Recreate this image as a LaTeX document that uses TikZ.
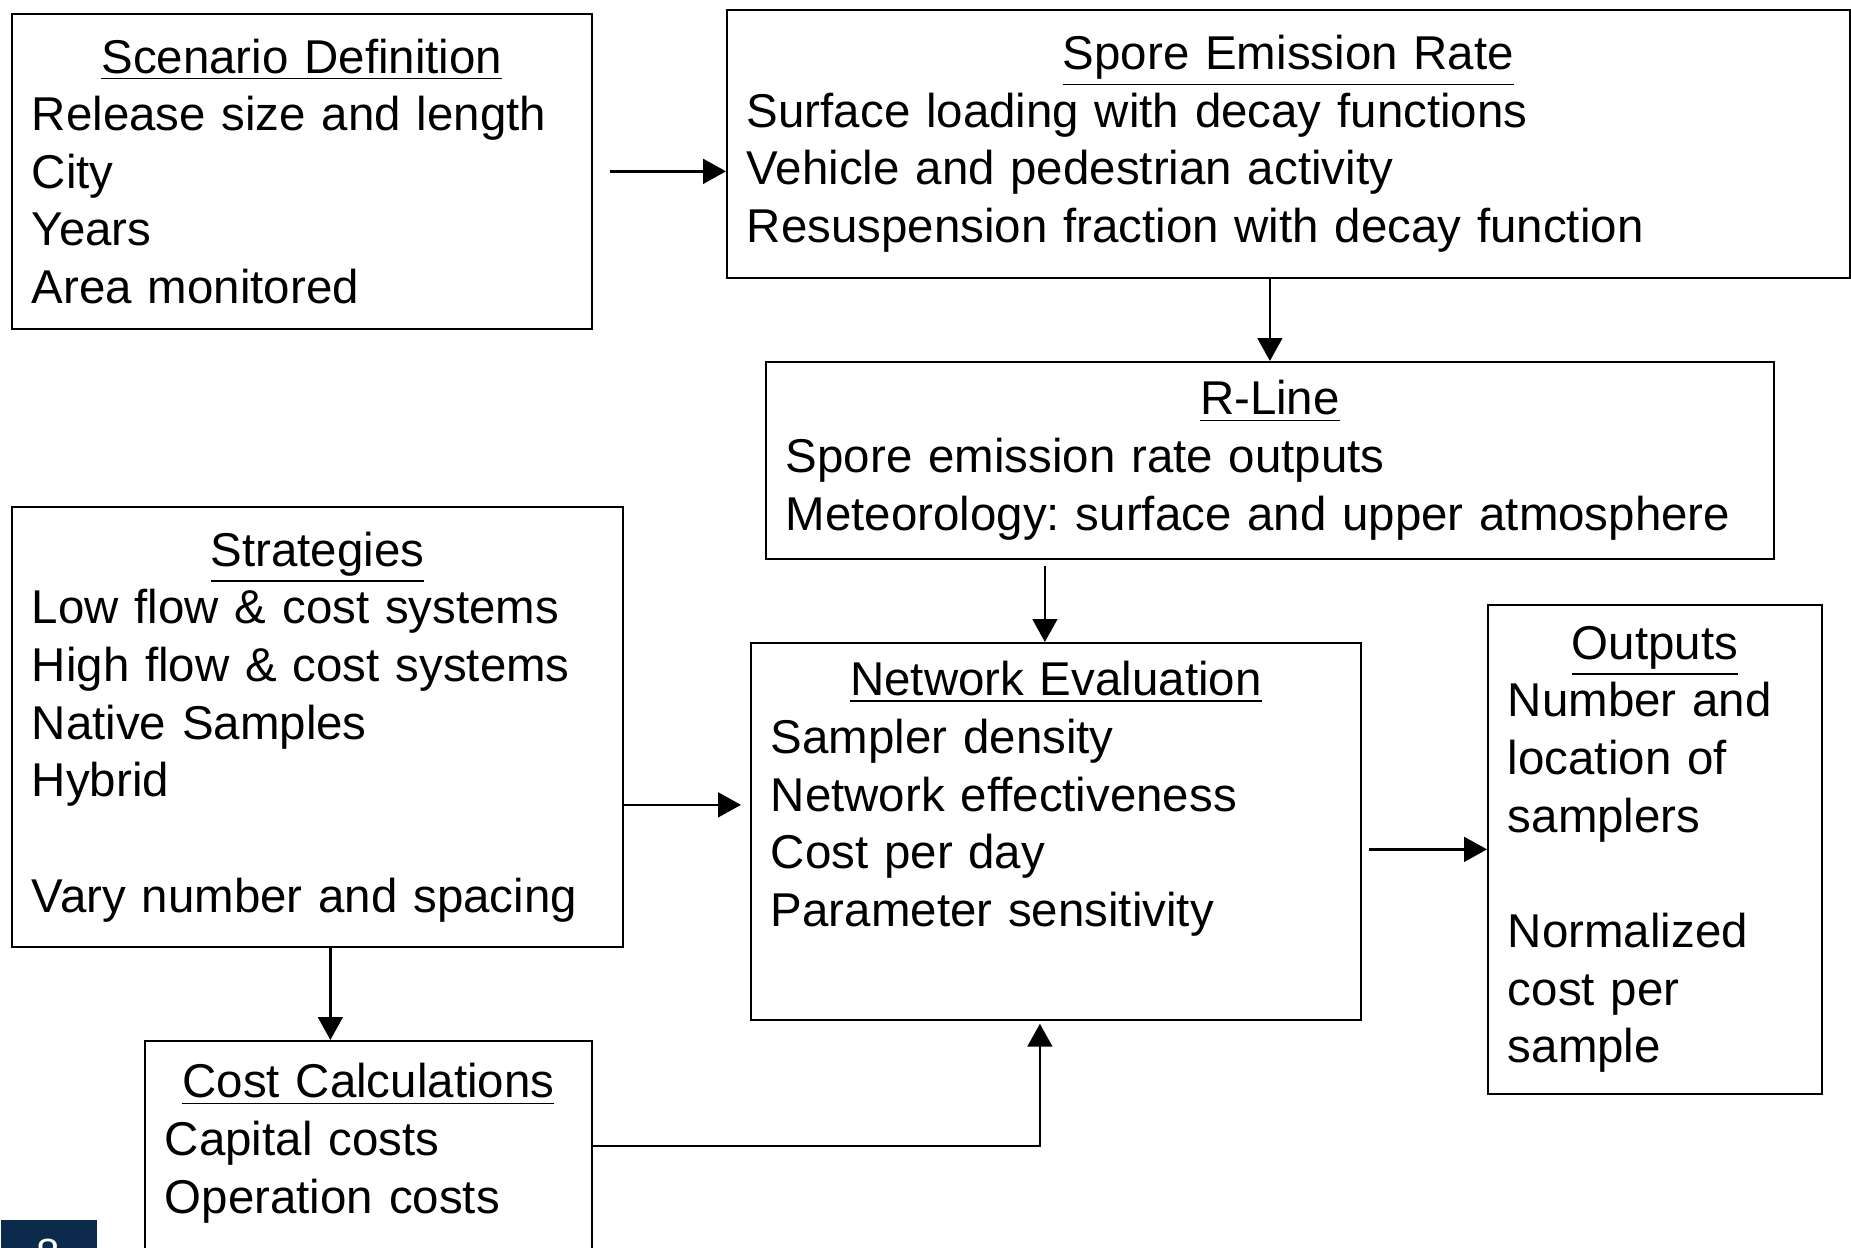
\documentclass[tikz,border=0pt]{standalone}
\usepackage{fontspec}
\setmainfont{Liberation Sans}
\usetikzlibrary{arrows.meta}
\definecolor{slidenavy}{HTML}{0C2A4B}
\frenchspacing

\begin{document}
\begin{tikzpicture}[
    box/.style={rectangle, draw, line width=0.5pt, anchor=north west, align=left, inner xsep=0.2cm, inner ysep=0pt, font=\fontsize{13.5}{16.4}\selectfont},
    arrow/.style={-{Triangle[length=6.5pt, width=7pt]}, line width=0.75pt},
    pagenum/.style={rectangle, fill=slidenavy, text=white, anchor=north west, minimum width=0.96cm, minimum height=0.68cm, inner sep=0pt, font=\fontsize{12}{14}\selectfont}
]
\useasboundingbox (0,0) rectangle (18.51,12.48);

% === TOP ROW ===
\node[box, text width=5.40cm, minimum height=3.15cm] (scenario) at (0.11, 12.35) {\hfill\underline{Scenario Definition}\hfill\null\\
Release size and length\\
City\\
Years\\
Area monitored};

\node[box, text width=10.83cm, minimum height=2.68cm] (spore) at (7.26, 12.39) {\hfill\underline{Spore Emission Rate}\hfill\null\\
Surface loading with decay functions\\
Vehicle and pedestrian activity\\
Resuspension fraction with decay function};

% R-Line model
\node[box, text width=9.68cm, minimum height=1.97cm] (rline) at (7.65, 8.87) {\hfill\underline{R-Line}\hfill\null\\
Spore emission rate outputs\\
Meteorology: surface and upper atmosphere};

% === LEFT SIDE ===
\node[box, text width=5.71cm, minimum height=4.40cm] (strategies) at (0.11, 7.42) {\hfill\underline{Strategies}\hfill\null\\
Low flow \& cost systems\\
High flow \& cost systems\\
Native Samples\\
Hybrid\\[16.4pt]
Vary number and spacing};

\node[box, text width=4.07cm, minimum height=2.70cm] (cost) at (1.44, 2.08) {\hfill\underline{Cost Calculations}\hfill\null\\
Capital costs\\
Operation costs\\
\strut};

% === CENTRE AND RIGHT ===
\node[box, text width=5.70cm, minimum height=3.77cm] (network) at (7.50, 6.06) {\hfill\underline{Network Evaluation}\hfill\null\\
Sampler density\\
Network effectiveness\\
Cost per day\\
Parameter sensitivity\\
\strut};

\node[box, text width=2.94cm, minimum height=4.89cm] (outputs) at (14.87, 6.44) {\hfill\underline{Outputs}\hfill\null\\
Number and\\
location of\\
samplers\\[16.4pt]
Normalized\\
cost per\\
sample};

% slide number (cut off)
\node[pagenum] (slidenum) at (0, 0.29) {8};

% Arrows
\coordinate (sn) at ([yshift=-0.78cm]strategies.east);
\coordinate (sn_end) at (sn -| network.west);
\coordinate (rn) at ([xshift=-0.11cm]network.north);

\draw[arrow] ([xshift=0.17cm]scenario.east) -- (scenario.east -| spore.west);
\draw[arrow] (rline.north |- spore.south) -- (rline.north);
\draw[arrow] ([yshift=-0.06cm]rn |- rline.south) -- (rn);
\draw[arrow] (sn) -- ([xshift=-0.09cm]sn_end);
\draw[arrow] ([xshift=0.13cm]strategies.south) -- ([xshift=0.13cm]strategies.south |- cost.north);
\draw[arrow] ([xshift=0.07cm]network.east |- outputs.west) -- (outputs.west);
\draw[arrow] ([yshift=0.30cm]cost.east) -| ([xshift=-0.16cm, yshift=-0.03cm]network.south);

\end{tikzpicture}
\end{document}
